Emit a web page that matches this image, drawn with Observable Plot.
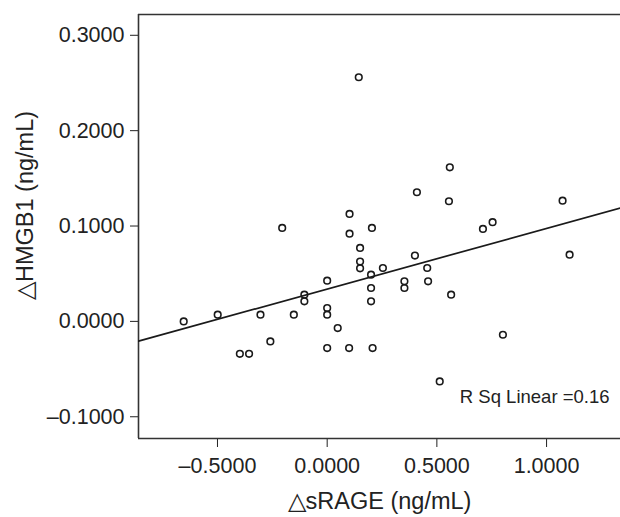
<!DOCTYPE html>
<html>
<head>
<meta charset="utf-8">
<script src="https://cdn.jsdelivr.net/npm/d3@7"></script>
<script src="https://cdn.jsdelivr.net/npm/@observablehq/plot@0.6"></script>
<style>
  html, body { margin: 0; padding: 0; background: #fff; }
  #chart svg { display: block; }
</style>
</head>
<body>
<div id="chart"></div>
<script>
// ΔsRAGE (ng/mL)
const sRAGE = [
  -0.654, -0.499, -0.398, -0.356, -0.304, -0.259, -0.205, -0.152, -0.104, -0.104,
  0.000, 0.000, 0.000, 0.000, 0.048, 0.102, 0.102, 0.100, 0.144, 0.150, 0.150, 0.150,
  0.204, 0.200, 0.200, 0.200, 0.207, 0.254, 0.352, 0.352, 0.400, 0.409,
  0.456, 0.460, 0.513, 0.555, 0.559, 0.565, 0.710, 0.754, 0.801, 1.073, 1.105
];
// ΔHMGB1 (ng/mL)
const HMGB1 = [
  0.000, 0.007, -0.034, -0.034, 0.007, -0.021, 0.098, 0.007, 0.028, 0.021,
  0.0427, 0.014, 0.007, -0.028, -0.007, 0.1127, 0.092, -0.028, 0.256, 0.077, 0.0627, 0.0556,
  0.098, 0.049, 0.035, 0.021, -0.028, 0.056, 0.042, 0.035, 0.069, 0.1354,
  0.056, 0.042, -0.063, 0.126, 0.1616, 0.028, 0.097, 0.104, -0.014, 0.1266, 0.070
];
const xTicks = [-0.5, 0, 0.5, 1.0];
const yTicks = [-0.1, 0, 0.1, 0.2, 0.3];
const xDomain = [-0.86, 1.337];
const yDomain = [-0.1228, 0.3218];
const xLabel = "\u25B3sRAGE (ng/mL)";
const yLabel = "\u25B3HMGB1 (ng/mL)";
const rsqText = "R Sq Linear =0.16";

const points = sRAGE.map((x, i) => ({x, y: HMGB1[i]}));
const mx = d3.mean(sRAGE), my = d3.mean(HMGB1);
const slope = d3.sum(points, d => (d.x - mx) * (d.y - my)) / d3.sum(points, d => (d.x - mx) ** 2);
const intercept = my - slope * mx;
const fit = xDomain.map(x => ({x, y: intercept + slope * x}));

const fmt = v => d3.format(".4f")(v).replace("\u2212", "\u2013");
const font = "Liberation Sans, Arial, Helvetica, sans-serif";

const chart = Plot.plot({
  width: 620,
  height: 517,
  marginLeft: 138,
  marginTop: 14,
  marginRight: 0,
  marginBottom: 79,
  style: {fontFamily: font, fontSize: "21px", color: "#222", background: "#fff"},
  x: {domain: xDomain},
  y: {domain: yDomain},
  marks: [
    Plot.axisX({ticks: xTicks, tickFormat: fmt, tickSize: 9, tickPadding: 10, label: null, fontSize: 21.5}),
    Plot.axisY({ticks: yTicks, tickFormat: fmt, tickSize: 8, tickPadding: 6, label: null, fontSize: 21.5}),
    Plot.ruleY([yDomain[1]], {stroke: "#333", strokeWidth: 1.6}),
    Plot.ruleY([yDomain[0]], {stroke: "#333", strokeWidth: 1.6}),
    Plot.ruleX([xDomain[0]], {stroke: "#333", strokeWidth: 1.6}),
    Plot.line(fit, {x: "x", y: "y", stroke: "#1a1a1a", strokeWidth: 1.7, clip: true}),
    Plot.dot(points, {x: "x", y: "y", r: 3.3, stroke: "#1a1a1a", strokeWidth: 1.6, fill: "none"}),
    Plot.text([rsqText], {frameAnchor: "bottom-right", dx: -11, dy: -36, textAnchor: "end", fontSize: 18.5, fill: "#222"}),
    Plot.text([xLabel], {frameAnchor: "bottom", dy: 70, fontSize: 23.5, fill: "#222"}),
    Plot.text([yLabel], {frameAnchor: "left", textAnchor: "middle", dx: -113, dy: -21, rotate: -90, fontSize: 23.5, fill: "#222"})
  ]
});
document.getElementById("chart").appendChild(chart);
</script>
</body>
</html>
